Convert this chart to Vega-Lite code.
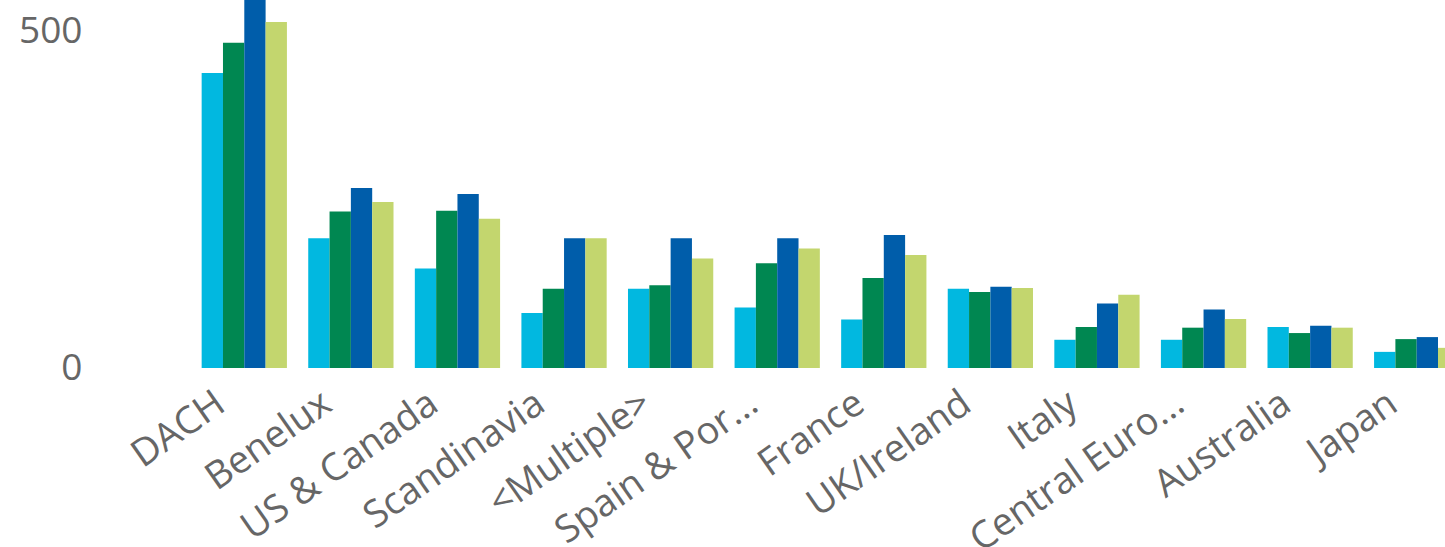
{
  "$schema": "https://vega.github.io/schema/vega-lite/v6.json",
  "autosize": "none",
  "width": 1254,
  "height": 368,
  "padding": {"left": 191, "top": 0, "right": 0, "bottom": 179},
  "background": "white",
  "config": {"view": {"stroke": null}, "font": "Open Sans"},
  "data": {"values": [
    {"region": "DACH", "series": "S1", "value": 439},
    {"region": "DACH", "series": "S2", "value": 484},
    {"region": "DACH", "series": "S3", "value": 565},
    {"region": "DACH", "series": "S4", "value": 515},
    {"region": "Benelux", "series": "S1", "value": 193},
    {"region": "Benelux", "series": "S2", "value": 233},
    {"region": "Benelux", "series": "S3", "value": 268},
    {"region": "Benelux", "series": "S4", "value": 247},
    {"region": "US & Canada", "series": "S1", "value": 148},
    {"region": "US & Canada", "series": "S2", "value": 234},
    {"region": "US & Canada", "series": "S3", "value": 259},
    {"region": "US & Canada", "series": "S4", "value": 222},
    {"region": "Scandinavia", "series": "S1", "value": 82},
    {"region": "Scandinavia", "series": "S2", "value": 118},
    {"region": "Scandinavia", "series": "S3", "value": 193},
    {"region": "Scandinavia", "series": "S4", "value": 193},
    {"region": "<Multiple>", "series": "S1", "value": 118},
    {"region": "<Multiple>", "series": "S2", "value": 123},
    {"region": "<Multiple>", "series": "S3", "value": 193},
    {"region": "<Multiple>", "series": "S4", "value": 163},
    {"region": "Spain & Por...", "series": "S1", "value": 90},
    {"region": "Spain & Por...", "series": "S2", "value": 156},
    {"region": "Spain & Por...", "series": "S3", "value": 193},
    {"region": "Spain & Por...", "series": "S4", "value": 178},
    {"region": "France", "series": "S1", "value": 72},
    {"region": "France", "series": "S2", "value": 134},
    {"region": "France", "series": "S3", "value": 198},
    {"region": "France", "series": "S4", "value": 168},
    {"region": "UK/Ireland", "series": "S1", "value": 118},
    {"region": "UK/Ireland", "series": "S2", "value": 113},
    {"region": "UK/Ireland", "series": "S3", "value": 121},
    {"region": "UK/Ireland", "series": "S4", "value": 119},
    {"region": "Italy", "series": "S1", "value": 42},
    {"region": "Italy", "series": "S2", "value": 61},
    {"region": "Italy", "series": "S3", "value": 96},
    {"region": "Italy", "series": "S4", "value": 109},
    {"region": "Central Euro...", "series": "S1", "value": 42},
    {"region": "Central Euro...", "series": "S2", "value": 60},
    {"region": "Central Euro...", "series": "S3", "value": 87},
    {"region": "Central Euro...", "series": "S4", "value": 73},
    {"region": "Australia", "series": "S1", "value": 61},
    {"region": "Australia", "series": "S2", "value": 52},
    {"region": "Australia", "series": "S3", "value": 63},
    {"region": "Australia", "series": "S4", "value": 60},
    {"region": "Japan", "series": "S1", "value": 24},
    {"region": "Japan", "series": "S2", "value": 43},
    {"region": "Japan", "series": "S3", "value": 46},
    {"region": "Japan", "series": "S4", "value": 30}
  ]},
  "mark": {"type": "bar", "clip": true},
  "encoding": {
    "x": {
      "field": "region", "type": "nominal", "sort": null,
      "scale": {"range": [0, 1279], "paddingInner": 0.2, "paddingOuter": 0.1},
      "axis": {
        "title": null, "domain": false, "ticks": false,
        "labelAngle": -35, "labelAlign": "right", "labelBaseline": "top",
        "labelOffset": -34, "labelPadding": 16,
        "labelFontSize": 38, "labelColor": "#666666", "labelFont": "Open Sans",
        "labelLimit": 400, "labelOverlap": false
      }
    },
    "xOffset": {"field": "series", "type": "nominal", "scale": {"paddingInner": 0, "paddingOuter": 0}},
    "y": {
      "field": "value", "type": "quantitative",
      "scale": {"domain": [0, 547.6], "nice": false, "zero": true},
      "axis": {
        "title": null, "domain": false, "ticks": false, "grid": false,
        "values": [0, 500], "labelPadding": 109,
        "labelFontSize": 37, "labelColor": "#666666", "labelFont": "Open Sans"
      }
    },
    "color": {
      "field": "series", "type": "nominal", "legend": null,
      "scale": {"domain": ["S1", "S2", "S3", "S4"], "range": ["#01B8E0", "#008751", "#005DAA", "#C3D66E"]}
    }
  }
}
